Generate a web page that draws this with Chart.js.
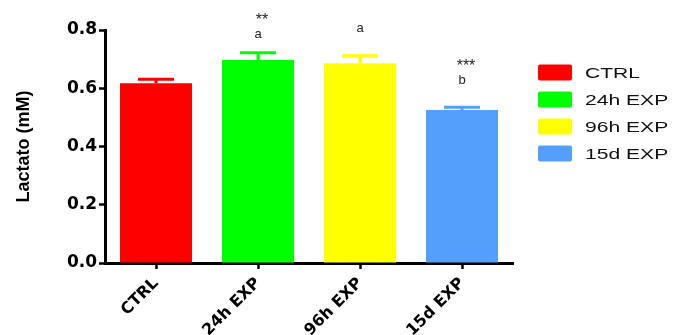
<!DOCTYPE html>
<html>
<head>
<meta charset="utf-8">
<script src="https://cdn.jsdelivr.net/npm/chart.js@4.4.1/dist/chart.umd.min.js"></script>
<style>
  html, body { margin: 0; padding: 0; background: #fff; }
  #wrap { width: 678px; height: 335px; }
</style>
</head>
<body>
<div id="wrap"><canvas id="chart" width="678" height="335"></canvas></div>
<script>
// data
const grupos = ["CTRL", "24h EXP", "96h EXP", "15d EXP"]
const lactato = [0.617, 0.697, 0.686, 0.525]
const errores = [0.014, 0.025, 0.026, 0.010]
const letras = ["", "a", "a", "b"]
const asteriscos = ["", "**", "", "***"]
const colores = ["#ff0000", "#00ff00", "#ffff00", "#559ffc"]
const yTicks = [0, 0.2, 0.4, 0.6, 0.8]

const fuente = "'Liberation Sans', Arial, sans-serif"
const fuenteAncha = "'DejaVu Sans', Verdana, sans-serif"

// error bars (upper only) + significance text
const barrasError = {
    id: "barrasError",
    afterDatasetsDraw(chart) {
        const ctx = chart.ctx
        const meta = chart.getDatasetMeta(0)
        const y = chart.scales.y
        // letter offsets above the cap, per bar
        const offLetra = [0, 18, 27, 27]
        ctx.save()
        meta.data.forEach((bar, i) => {
            const yTop = y.getPixelForValue(lactato[i])
            const yErr = y.getPixelForValue(lactato[i] + errores[i])
            ctx.strokeStyle = colores[i]
            ctx.lineWidth = 3
            ctx.beginPath()
            ctx.moveTo(bar.x, yTop)
            ctx.lineTo(bar.x, yErr)
            ctx.moveTo(bar.x - 18, yErr)
            ctx.lineTo(bar.x + 18, yErr)
            ctx.stroke()

            ctx.fillStyle = "#222"
            ctx.textAlign = "center"
            ctx.textBaseline = "middle"
            const yLetra = yErr - offLetra[i]
            if (letras[i]) {
                ctx.font = "13px " + fuente
                ctx.fillText(letras[i], bar.x, yLetra)
            }
            if (asteriscos[i]) {
                ctx.font = "16px " + fuente
                ctx.fillText(asteriscos[i], bar.x + 4, yLetra - 14)
            }
        })
        ctx.restore()
    }
}

// legend on the right (text is wide in the original, stretch it)
const leyenda = {
    id: "leyenda",
    afterDraw(chart) {
        const ctx = chart.ctx
        const x0 = chart.chartArea.right + 25
        ctx.save()
        grupos.forEach((g, i) => {
            const yc = 72.5 + i * 27
            ctx.fillStyle = colores[i]
            ctx.beginPath()
            ctx.roundRect(x0, yc - 8, 34, 16, 2)
            ctx.fill()
            ctx.save()
            ctx.translate(x0 + 47, yc + 1)
            ctx.scale(1.36, 1)
            ctx.font = "15.5px " + fuente
            ctx.textBaseline = "middle"
            ctx.textAlign = "left"
            ctx.fillStyle = "#111"
            ctx.fillText(g, 0, 0)
            ctx.restore()
        })
        ctx.restore()
    }
}

const ctx = document.getElementById("chart").getContext("2d")
new Chart(ctx, {
    type: "bar",
    data: {
        labels: grupos,
        datasets: [{
            data: lactato,
            backgroundColor: colores,
            borderWidth: 0,
            categoryPercentage: 0.706,
            barPercentage: 1
        }]
    },
    options: {
        responsive: false,
        animation: false,
        layout: { padding: { top: 30, right: 165, left: 0, bottom: 0 } },
        plugins: {
            legend: { display: false },
            tooltip: { enabled: false }
        },
        scales: {
            x: {
                afterFit: s => { s.height = 72 },
                grid: { display: true, drawOnChartArea: false, drawTicks: true, tickLength: 6, tickWidth: 2.5, color: "#000", offset: false },
                border: { color: "#000", width: 3 },
                ticks: {
                    color: "#000",
                    font: { family: fuenteAncha, size: 16, weight: "bold" },
                    maxRotation: 45,
                    minRotation: 45,
                    padding: 5
                }
            },
            y: {
                min: 0,
                max: 0.8,
                afterFit: s => { s.width = 105 },
                afterBuildTicks: s => { s.ticks = yTicks.map(v => ({ value: v })) },
                grid: { display: true, drawOnChartArea: false, drawTicks: true, tickLength: 6, tickWidth: 2.5, color: "#000" },
                border: { color: "#000", width: 3 },
                ticks: {
                    color: "#000",
                    font: { family: fuenteAncha, size: 17, weight: "bold" },
                    padding: 2,
                    callback: v => v.toFixed(1)
                },
                title: {
                    display: true,
                    text: "Lactato (mM)",
                    color: "#000",
                    font: { family: fuente, size: 18, weight: "bold" },
                    padding: { top: 13, bottom: 0 }
                }
            }
        }
    },
    plugins: [barrasError, leyenda]
})
</script>
</body>
</html>
